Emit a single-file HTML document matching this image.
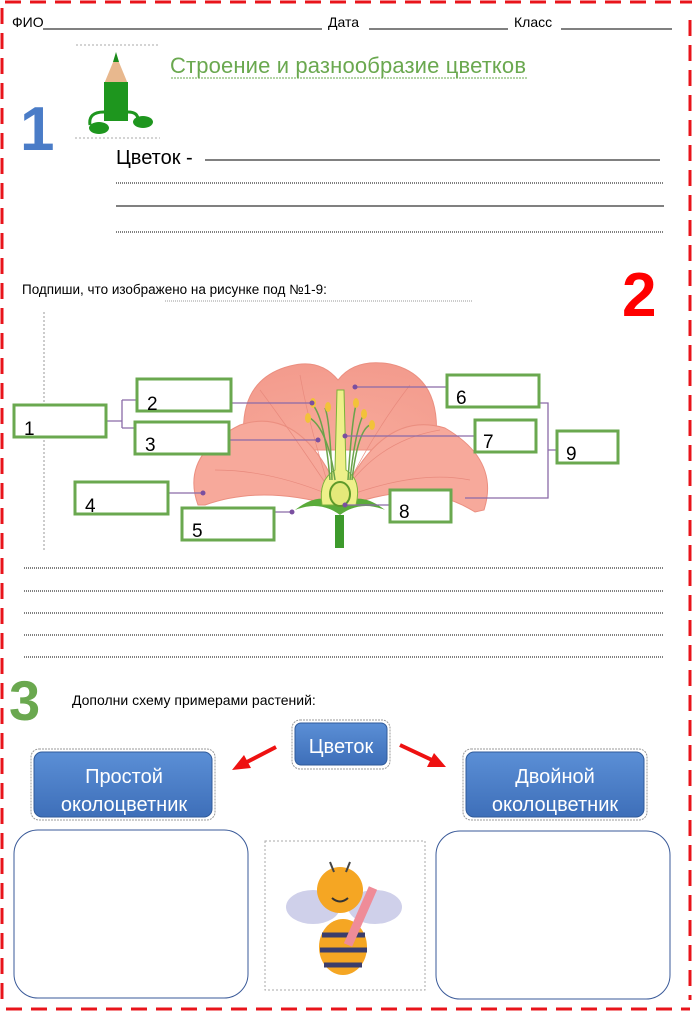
<!DOCTYPE html>
<html><head><meta charset="utf-8"><style>
html,body{margin:0;padding:0;background:#fff;width:697px;height:1015px;overflow:hidden}
svg{display:block}
text{font-family:"Liberation Sans","DejaVu Sans",sans-serif}
</style></head><body>
<svg width="697" height="1015" viewBox="0 0 697 1015" xmlns="http://www.w3.org/2000/svg">
<defs>
<radialGradient id="pg" cx="0.5" cy="0.9" r="0.9">
<stop offset="0" stop-color="#f7a99a"/><stop offset="1" stop-color="#f39b8d"/>
</radialGradient>
<linearGradient id="bl" x1="0" y1="0" x2="0" y2="1">
<stop offset="0" stop-color="#5b8fd6"/><stop offset="1" stop-color="#3e6fb9"/>
</linearGradient>
</defs>
<g stroke="#e8141b" stroke-width="3" stroke-dasharray="16,9" fill="none">
<line x1="5" y1="2" x2="692" y2="2"/>
<line x1="2" y1="8" x2="2" y2="1005"/>
<line x1="690" y1="20" x2="690" y2="1000"/>
<line x1="6" y1="1009" x2="690" y2="1009"/>
</g>
<text x="12" y="27" font-size="14">ФИО</text>
<line x1="43" y1="29" x2="322" y2="29" stroke="#000" stroke-width="1"/>
<text x="328" y="27" font-size="14">Дата</text>
<line x1="369" y1="29" x2="508" y2="29" stroke="#000"/>
<text x="514" y="27" font-size="14">Класс</text>
<line x1="561" y1="29" x2="672" y2="29" stroke="#000"/>
<g stroke="#aaa" stroke-dasharray="2,2" stroke-width="1">
<line x1="76" y1="45" x2="160" y2="45"/><line x1="75" y1="138" x2="160" y2="138"/>
</g>
<polygon points="104,84 116,55 128,84" fill="#e8b88e"/>
<polygon points="113,62 116,52 119,62" fill="#1a8a1a"/>
<rect x="104" y="82" width="24" height="39" fill="#1e961e"/>
<path d="M104,112 Q88,112 90,125 M128,112 Q138,112 138,120" stroke="#1e961e" stroke-width="3" fill="none"/>
<ellipse cx="99" cy="128" rx="10" ry="6" fill="#1e961e"/>
<ellipse cx="143" cy="122" rx="10" ry="6" fill="#1e961e"/>
<text x="170" y="73" font-size="22" fill="#6aa84f" textLength="356">Строение и разнообразие цветков</text>
<line x1="171" y1="78" x2="527" y2="78" stroke="#6aa84f" stroke-dasharray="2,1"/>
<text x="20" y="150" font-size="62" font-weight="bold" fill="#4a7cc7">1</text>
<text x="116" y="164" font-size="20">Цветок -</text>
<line x1="205" y1="160" x2="660" y2="160" stroke="#000"/>
<line x1="116" y1="183" x2="664" y2="183" stroke="#000" stroke-dasharray="1,1"/>
<line x1="116" y1="206" x2="664" y2="206" stroke="#000"/>
<line x1="116" y1="232" x2="664" y2="232" stroke="#000" stroke-dasharray="1,1"/>
<text x="22" y="294" font-size="13.5">Подпиши, что изображено на рисунке под №1-9:</text>
<line x1="165" y1="301" x2="472" y2="301" stroke="#999" stroke-dasharray="1,1"/>
<text x="622" y="316" font-size="62" font-weight="bold" fill="#ff0000">2</text>
<line x1="44" y1="312" x2="44" y2="550" stroke="#999" stroke-dasharray="2,2"/>
<!-- flower -->
<path d="M245,450 Q235,380 290,366 Q320,358 338,380 Q355,358 390,364 Q445,376 435,450 Z" fill="url(#pg)" stroke="#eb8f80"/>
<path d="M198,505 Q180,455 240,425 Q300,405 338,490 L332,505 Q260,485 205,505 Z" fill="#f7a99b" stroke="#eb8f80"/>
<path d="M484,510 Q500,460 445,428 Q385,410 345,490 L350,505 Q420,478 475,512 Z" fill="#f7a99b" stroke="#eb8f80"/>
<g stroke="#e88a7d" stroke-width="0.7" fill="none">
<path d="M330,490 Q290,430 260,390"/><path d="M330,490 Q310,430 300,375"/><path d="M345,490 Q375,430 410,385"/><path d="M345,490 Q380,440 440,430"/><path d="M330,495 Q270,470 215,470"/><path d="M350,495 Q420,470 470,480"/>
</g>
<rect x="335" y="515" width="9" height="33" fill="#3d9a2c"/>
<path d="M295,510 Q320,490 340,505 Q360,490 385,510 Q360,500 340,515 Q320,500 295,510Z" fill="#5aab3a"/>
<path d="M322,505 Q318,480 335,470 L337,390 L344,390 L346,470 Q362,480 356,505 Z" fill="#eef08a" stroke="#7bb23a"/>
<ellipse cx="340" cy="494" rx="10" ry="12" fill="#e4e97a" stroke="#5e9a2a" stroke-width="2"/>
<g stroke="#6aa34a" stroke-width="1.5" fill="none">
<path d="M330,480 Q325,420 313,405"/><path d="M332,480 Q330,420 325,408"/><path d="M335,480 Q328,430 310,418"/>
<path d="M348,480 Q352,420 356,405"/><path d="M350,480 Q356,425 365,412"/><path d="M352,480 Q358,430 370,425"/>
</g>
<g fill="#f2c23a"><ellipse cx="313" cy="403" rx="3" ry="5"/><ellipse cx="328" cy="407" rx="3" ry="5"/><ellipse cx="308" cy="418" rx="3" ry="5"/><ellipse cx="356" cy="403" rx="3" ry="5"/><ellipse cx="364" cy="414" rx="3" ry="5"/><ellipse cx="372" cy="425" rx="3" ry="5"/></g>
<g stroke="#8a6aa8" stroke-width="1.3" fill="none">
<path d="M107,421 H122 M122,400 V428 M122,400 H136 M122,428 H136"/>
<path d="M232,403 H312"/><path d="M230,440 H318"/><path d="M169,493 H203"/><path d="M275,512 H292"/>
<path d="M446,387 H355"/><path d="M474,436 H345"/><path d="M389,505 H345"/>
<path d="M540,403 H548 V498 H465 M548,450 H556"/>
</g>
<g fill="#7a4fa0"><circle cx="312" cy="403" r="2.5"/><circle cx="318" cy="440" r="2.5"/><circle cx="203" cy="493" r="2.5"/><circle cx="292" cy="512" r="2.5"/><circle cx="355" cy="387" r="2.5"/><circle cx="345" cy="436" r="2.5"/><circle cx="345" cy="505" r="2.5"/></g>
<g fill="#fff" stroke="#6aa84f" stroke-width="3">
<rect x="14" y="405" width="92" height="32"/><rect x="137" y="379" width="94" height="32"/><rect x="135" y="422" width="94" height="32"/>
<rect x="75" y="482" width="93" height="32"/><rect x="182" y="508" width="92" height="32"/>
<rect x="447" y="375" width="92" height="32"/><rect x="475" y="420" width="61" height="32"/><rect x="390" y="490" width="61" height="32"/><rect x="557" y="431" width="61" height="32"/>
</g>
<g font-size="19"><text x="24" y="435">1</text><text x="147" y="410">2</text><text x="145" y="451">3</text><text x="85" y="512">4</text><text x="192" y="537">5</text><text x="456" y="404">6</text><text x="483" y="448">7</text><text x="399" y="518">8</text><text x="566" y="460">9</text></g>
<g stroke="#000" stroke-width="1" stroke-dasharray="1,1">
<line x1="24" y1="568" x2="664" y2="568"/><line x1="24" y1="591" x2="664" y2="591"/><line x1="24" y1="613" x2="664" y2="613"/><line x1="24" y1="635" x2="664" y2="635"/><line x1="24" y1="657" x2="664" y2="657"/>
</g>
<text x="9" y="720" font-size="56" font-weight="bold" fill="#6aa84f">3</text>
<text x="72" y="705" font-size="14">Дополни схему примерами растений:</text>
<g fill="none" stroke="#999" stroke-dasharray="2,1">
<rect x="292" y="720" width="98" height="49" rx="8"/><rect x="31" y="749" width="184" height="71" rx="8"/><rect x="463" y="749" width="184" height="71" rx="8"/>
</g>
<rect x="295" y="723" width="92" height="42" rx="6" fill="url(#bl)" stroke="#2f5a9a"/>
<rect x="34" y="752" width="178" height="65" rx="8" fill="url(#bl)" stroke="#2f5a9a"/>
<rect x="466" y="752" width="178" height="65" rx="8" fill="url(#bl)" stroke="#2f5a9a"/>
<g fill="#fff" font-size="20" text-anchor="middle">
<text x="341" y="753">Цветок</text>
<text x="124" y="783">Простой</text><text x="124" y="811">околоцветник</text>
<text x="555" y="783">Двойной</text><text x="555" y="811">околоцветник</text>
</g>
<g stroke="#ee1111" stroke-width="4" fill="#ee1111">
<line x1="276" y1="747" x2="245" y2="763"/><polygon points="232,770 244,755 251,768" stroke="none"/>
<line x1="400" y1="745" x2="432" y2="760"/><polygon points="446,767 427,767 434,753" stroke="none"/>
</g>
<rect x="14" y="830" width="234" height="168" rx="24" fill="#fff" stroke="#3a5a99"/>
<rect x="436" y="831" width="234" height="168" rx="24" fill="#fff" stroke="#3a5a99"/>
<rect x="265" y="841" width="160" height="149" fill="none" stroke="#aaa" stroke-dasharray="2,2"/>
<ellipse cx="313" cy="907" rx="27" ry="17" fill="#cfd0ea"/><ellipse cx="375" cy="907" rx="27" ry="17" fill="#cfd0ea"/>
<ellipse cx="343" cy="947" rx="24" ry="28" fill="#f5a623"/>
<g stroke="#3b3d6b" stroke-width="5"><line x1="322" y1="935" x2="365" y2="935"/><line x1="320" y1="950" x2="367" y2="950"/><line x1="324" y1="965" x2="362" y2="965"/></g>
<circle cx="340" cy="890" r="23" fill="#f5a623"/>
<path d="M332,898 Q340,905 348,898" stroke="#333" stroke-width="2" fill="none"/>
<line x1="334" y1="872" x2="330" y2="862" stroke="#444" stroke-width="2"/><line x1="346" y1="872" x2="350" y2="862" stroke="#444" stroke-width="2"/>
<line x1="373" y1="888" x2="348" y2="945" stroke="#ef8c98" stroke-width="9"/>
</svg>
</body></html>
